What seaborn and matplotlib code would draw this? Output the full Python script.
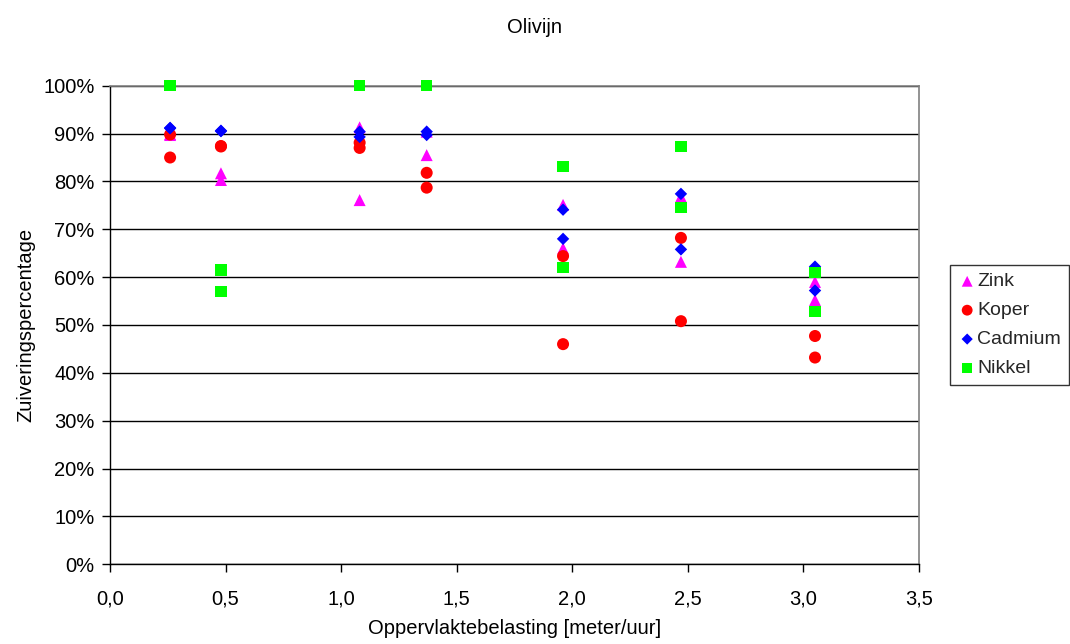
import matplotlib
matplotlib.use("Agg")
import matplotlib.pyplot as plt
import seaborn as sns
import pandas as pd
from matplotlib.ticker import FuncFormatter, MultipleLocator

# Data
belasting = [0.26, 0.26, 0.48, 0.48, 1.08, 1.08, 1.37, 1.37, 1.96, 1.96, 2.47, 2.47, 3.05, 3.05]
zink = [89.7, 89.9, 81.7, 80.3, 91.3, 76.1, 90.4, 85.5, 75.1, 66.0, 76.8, 63.2, 59.0, 55.2]
koper = [89.8, 85.0, 87.3, 87.4, 88.1, 87.0, 81.8, 78.7, 64.4, 46.0, 68.2, 50.8, 47.7, 43.2]
cadmium = [91.1, 91.2, 90.6, 90.5, 90.4, 89.3, 90.4, 89.7, 74.1, 68.0, 77.4, 65.8, 62.2, 57.2]
nikkel = [100.0, 100.0, 61.5, 57.0, 100.0, 100.0, 100.0, 100.0, 83.1, 62.0, 87.3, 74.5, 60.9, 52.8]
metalen = ["Zink", "Koper", "Cadmium", "Nikkel"]
kleuren = ["#FF00FF", "#FF0000", "#0000FF", "#00FF00"]
markers = ["^", "o", "D", "s"]
sizes = [75, 75, 40, 65]

sns.set_theme(style="white")
plt.rcParams["font.family"] = ["Liberation Sans", "DejaVu Sans"]

FS = 14.5

series = [zink, koper, cadmium, nikkel]
rows = []
for m, vals in zip(metalen, series):
    for x, v in zip(belasting, vals):
        rows.append({"x": x, "y": v / 100.0, "metaal": m})
df = pd.DataFrame(rows)

fig = plt.figure(figsize=(10.70, 6.44), dpi=100)
ax = fig.add_axes([0.1028, 0.1238, 0.8589 - 0.1028, 0.8669 - 0.1238])

for m, c, mk, s in zip(metalen, kleuren, markers, sizes):
    sub = df[df["metaal"] == m]
    sns.scatterplot(data=sub, x="x", y="y", color=c, marker=mk, s=s,
                    edgecolor="none", linewidth=0, ax=ax, label=m, zorder=3,
                    clip_on=False)

ax.set_xlim(0, 3.5)
ax.set_ylim(0, 1.0)
ax.xaxis.set_major_locator(MultipleLocator(0.5))
ax.yaxis.set_major_locator(MultipleLocator(0.1))
ax.xaxis.set_major_formatter(FuncFormatter(lambda v, p: f"{v:.1f}".replace(".", ",")))
ax.yaxis.set_major_formatter(FuncFormatter(lambda v, p: f"{v*100:.0f}%"))
ax.grid(axis="y", color="#000000", linewidth=1.0)
ax.grid(axis="x", visible=False)
ax.set_axisbelow(True)

for sp in ["left", "bottom"]:
    ax.spines[sp].set_color("black")
    ax.spines[sp].set_linewidth(1.0)
ax.spines["right"].set_color("#808080")
ax.spines["right"].set_linewidth(1.2)
ax.spines["top"].set_color("#808080")
ax.spines["top"].set_linewidth(1.2)

ax.tick_params(axis="both", direction="out", length=6, width=1, color="black",
               labelsize=FS, labelcolor="black", left=True, bottom=True)
ax.tick_params(axis="x", pad=12)
ax.tick_params(axis="y", pad=5)

ax.set_xlabel("Oppervlaktebelasting [meter/uur]", fontsize=FS, color="black", labelpad=8)
ax.set_ylabel("Zuiveringspercentage", fontsize=FS, color="black", labelpad=6)
fig.text(0.5, 0.958, "Olivijn", ha="center", va="center", fontsize=FS, color="black")

handles, labels = ax.get_legend_handles_labels()
leg = ax.legend(handles, labels, loc="upper left", bbox_to_anchor=(0.888, 0.5885),
                bbox_transform=fig.transFigure, frameon=True, fancybox=False,
                edgecolor="black", fontsize=14, handletextpad=0.05,
                handlelength=0.95, borderpad=0.4, labelspacing=0.58,
                borderaxespad=0, markerscale=0.9)
leg.get_frame().set_linewidth(1.0)

fig.savefig("out.png", dpi=100, facecolor="white")
